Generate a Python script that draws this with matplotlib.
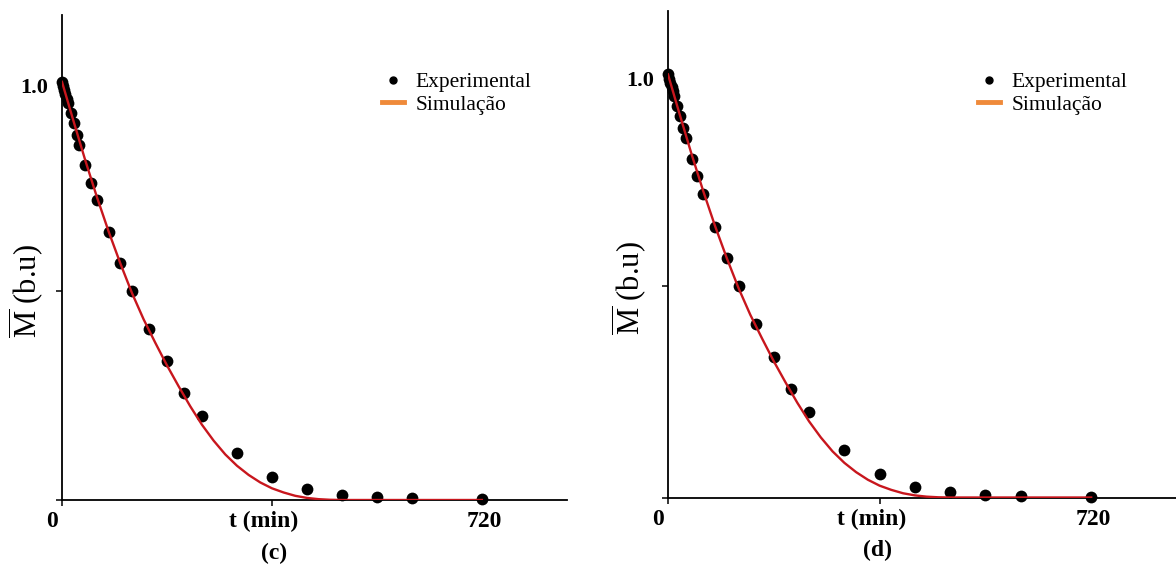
import matplotlib
matplotlib.use("Agg")
import matplotlib.pyplot as plt
from matplotlib.lines import Line2D
from matplotlib.transforms import ScaledTranslation

plt.rcParams['font.family'] = ['Liberation Serif', 'DejaVu Serif']
plt.rcParams['mathtext.fontset'] = 'custom'
plt.rcParams['mathtext.rm'] = 'Liberation Serif'

# experimental points (same run shown in both panels)
exp_t = [0, 2, 4, 6, 8, 10, 15, 20, 25, 30, 40, 50, 60, 80, 100, 120,
         150, 180, 210, 240, 300, 360, 420, 480, 540, 600, 720]
exp_m = [1.0, 0.99, 0.98, 0.97, 0.96, 0.95, 0.926, 0.902, 0.873, 0.849,
         0.801, 0.759, 0.718, 0.640, 0.567, 0.499, 0.409, 0.332, 0.257,
         0.201, 0.112, 0.056, 0.026, 0.012, 0.006, 0.004, 0.002]

# simulated curve
sim_t = [0, 20, 40, 60, 80, 100, 120, 140, 160, 180, 200, 220, 240, 260,
         280, 300, 320, 340, 360, 380, 400, 420, 440, 460, 480, 720]
sim_m = [1.0, 0.905, 0.812, 0.724, 0.642, 0.566, 0.495, 0.432, 0.376,
         0.322, 0.272, 0.224, 0.180, 0.142, 0.109, 0.082, 0.060, 0.042,
         0.028, 0.018, 0.010, 0.005, 0.002, 0.0005, 0.0, 0.0]

x_ticks = [0, 360, 720]
x_ticklabels = ["0", "t (min)", "720"]
y_ticks = [0, 0.5, 1.0]
y_ticklabels = ["", "", "1.0"]
panel_names = ["(c)", "(d)"]

fig = plt.figure(figsize=(11.76, 5.65), dpi=100)

# axes placement in pixels: (left, bottom, width, height)
boxes = [(62, 65, 505, 485), (668, 67.5, 509, 486.5)]
ylims = [1.16, 1.15]
legend_anchor = [(0.634, 0.882), (0.610, 0.874)]
ylabel_x = [-0.07, -0.075]
label_pos = [(274, 553), (878, 550)]

W, H = 1176.0, 565.0
for i in range(2):
    l, b, w, h = boxes[i]
    ax = fig.add_axes([l / W, b / H, w / W, h / H])
    ax.set_xlim(0, 866)
    ax.set_ylim(0, ylims[i])

    ax.scatter(exp_t, exp_m, s=72, color='black', zorder=3, clip_on=False,
               linewidths=0)
    ax.plot(sim_t, sim_m, color='#c8161d', lw=1.7, zorder=4)

    for s in ['top', 'right']:
        ax.spines[s].set_visible(False)
    for s in ['left', 'bottom']:
        ax.spines[s].set_linewidth(1.3)
        ax.spines[s].set_color('black')

    ax.set_xticks(x_ticks)
    ax.set_xticklabels(x_ticklabels, fontsize=17, fontweight='bold')
    ax.set_yticks(y_ticks)
    ax.set_yticklabels(y_ticklabels, fontsize=16, fontweight='bold')
    ax.tick_params(axis='both', length=4, width=1.1, color='black')
    ax.tick_params(axis='x', pad=4)
    ax.tick_params(axis='y', pad=6)
    ax.xaxis.get_major_ticks()[2].tick1line.set_visible(False)
    ax.yaxis.get_major_ticks()[2].tick1line.set_visible(False)

    offsets = [-10, -8, 2]
    for lab, dx in zip(ax.get_xticklabels(), offsets):
        lab.set_transform(lab.get_transform() +
                          ScaledTranslation(dx / 100.0, 0, fig.dpi_scale_trans))
    ylab = ax.get_yticklabels()[2]
    ylab.set_transform(ylab.get_transform() +
                       ScaledTranslation(0, -4 / 100.0, fig.dpi_scale_trans))

    ax.set_ylabel(r'$\overline{\mathrm{M}}$ (b.u)', fontsize=22, va='center')
    ax.yaxis.set_label_coords(ylabel_x[i], 0.43)

    handles = [Line2D([], [], ls='none', marker='o', ms=5, color='black'),
               Line2D([], [], color='#ef8a3a', lw=3.5)]
    ax.legend(handles, ["Experimental", "Simulação"], loc='upper left',
              bbox_to_anchor=legend_anchor[i], frameon=False, fontsize=15.5,
              handlelength=1.0, handletextpad=0.55, labelspacing=0.1,
              borderpad=0, borderaxespad=0)

    fig.text(label_pos[i][0] / W, 1 - label_pos[i][1] / H, panel_names[i],
             fontsize=17, fontweight='bold', ha='center', va='center')

fig.savefig("out.png", dpi=100)
